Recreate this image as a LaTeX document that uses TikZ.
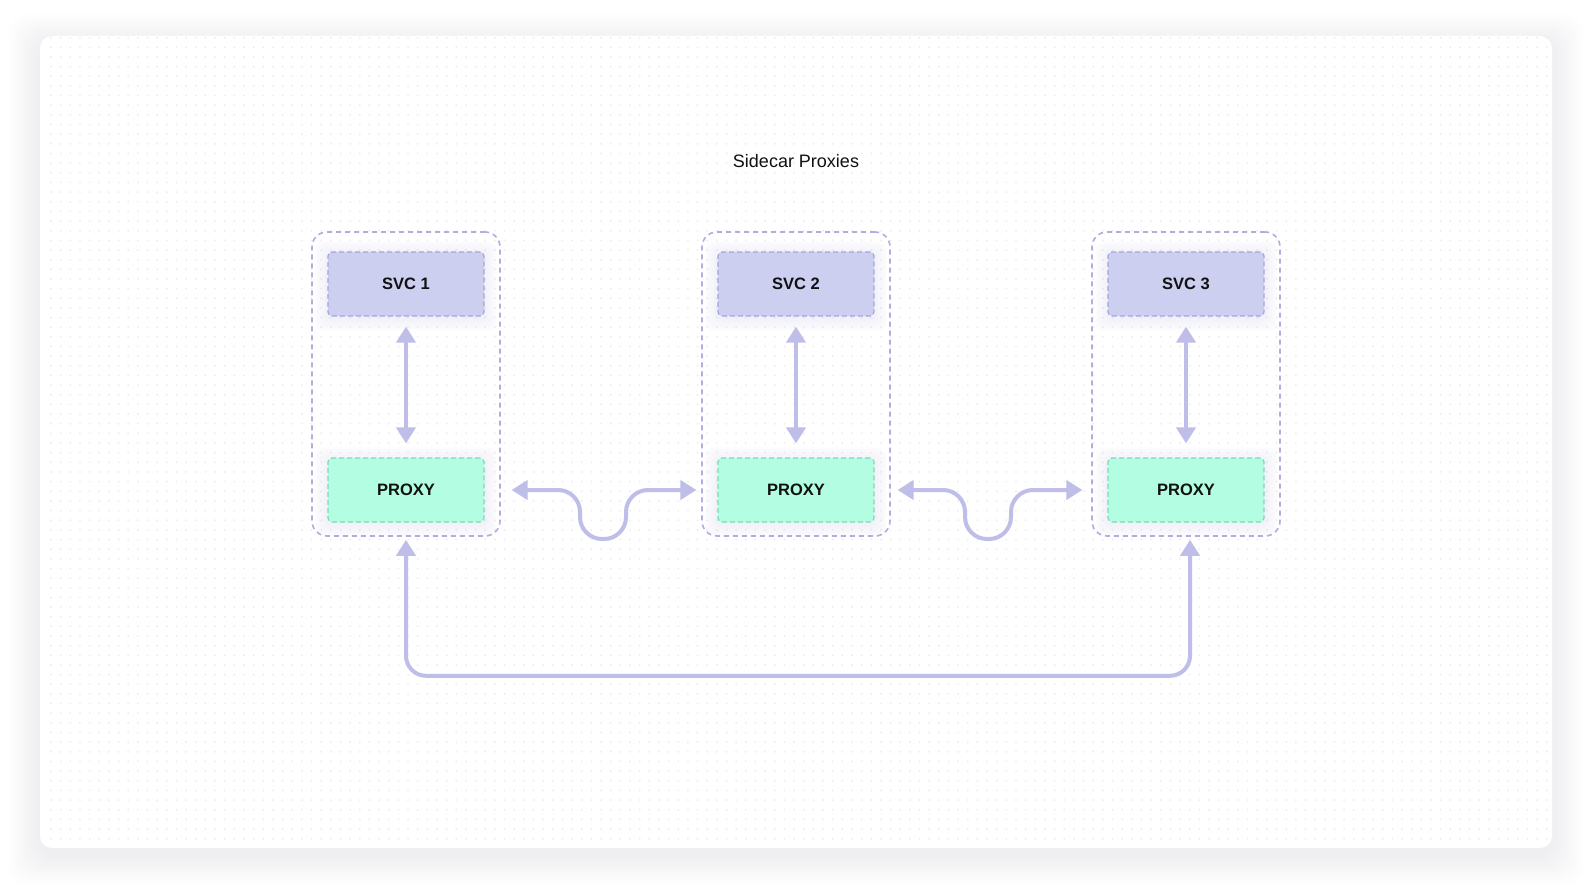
\documentclass[tikz,border=0pt]{standalone}
\usepackage{fontspec}
\setmainfont{Liberation Sans}
\usetikzlibrary{arrows.meta,calc}
\definecolor{svcf}{HTML}{CDCFF1}
\definecolor{svcb}{HTML}{A5A5DD}
\definecolor{proxf}{HTML}{B3FDE3}
\definecolor{proxb}{HTML}{7FD8B4}
\definecolor{contc}{HTML}{B1ADE2}
\definecolor{arrc}{HTML}{BEBEE8}
\definecolor{dotc}{HTML}{EEEEEF}
\definecolor{glowc}{HTML}{C4C4F0}
\definecolor{shadc}{HTML}{303050}
\definecolor{txt}{HTML}{111111}
\pgfdeclarelayer{back}
\pgfdeclarelayer{glow}
\pgfsetlayers{back,glow,main}
\tikzset{
  tipA/.tip={Triangle[width=19pt,length=16pt]},
  cont/.style={draw=contc, line width=1.6pt, dash pattern=on 5pt off 4pt, rounded corners=15pt,
    minimum width=188pt, minimum height=304pt, inner sep=0pt},
  svcbox/.style={draw=svcb, fill=svcf, line width=1.2pt, dash pattern=on 5pt off 3pt, rounded corners=4pt,
    minimum width=156pt, minimum height=64pt, inner sep=0pt, text=txt, font=\fontsize{16.5}{19}\selectfont\bfseries},
  proxbox/.style={svcbox, draw=proxb, fill=proxf},
  link/.style={draw=arrc, line width=4pt, tipA-tipA},
  titletext/.style={text=txt, font=\fontsize{18}{22}\selectfont, inner sep=0pt}
}
\begin{document}
\begin{tikzpicture}[x=1pt,y=-1pt]
\useasboundingbox (0,0) rectangle (1592,893);
\begin{pgfonlayer}{back}
  \foreach \i in {1,...,20}{
    \fill[shadc, opacity=0.002, rounded corners=20pt] ({40-1.6*\i},{36-1.4*\i+6}) rectangle ({1552+1.6*\i},{848+1.6*\i+6});
  }
  \fill[white, rounded corners=12pt] (40,36) rectangle (1552,848);
  \foreach \r in {0,...,83}{
    \draw[dotc, line width=2.2pt, line cap=round, dash pattern=on 0pt off 9.65pt] (51,{37.7+\r*9.65}) -- (1548,{37.7+\r*9.65});
  }
\end{pgfonlayer}

\node[titletext] (title) at (796,161) {Sidecar Proxies};

\node[cont] (c1) at (406,384) {};
\node[cont] (c2) at (796,384) {};
\node[cont] (c3) at (1186,384) {};

\node[svcbox] (svc1) at (406,284) {SVC 1};
\node[svcbox] (svc2) at (796,284) {SVC 2};
\node[svcbox] (svc3) at (1186,284) {SVC 3};
\node[proxbox] (proxy1) at (406,490) {PROXY};
\node[proxbox] (proxy2) at (796,490) {PROXY};
\node[proxbox] (proxy3) at (1186,490) {PROXY};

\begin{pgfonlayer}{glow}
  \foreach \n in {svc1,svc2,svc3,proxy1,proxy2,proxy3}{
    \foreach \e in {2,4,...,12}{
      \fill[glowc, opacity=0.035, rounded corners=8pt] ($(\n.south west)+(-\e,{\e+2})$) rectangle ($(\n.north east)+(\e,{-\e+2})$);
    }
  }
\end{pgfonlayer}

\draw[link] ($(svc1.south)+(0,10)$) -- ($(proxy1.north)+(0,-14)$);
\draw[link] ($(svc2.south)+(0,10)$) -- ($(proxy2.north)+(0,-14)$);
\draw[link] ($(svc3.south)+(0,10)$) -- ($(proxy3.north)+(0,-14)$);

\draw[link, rounded corners=22pt] ($(proxy1.east)+(27,0)$) -- (580,490) -- (580,539) -- (626,539) -- (626,490) -- ($(proxy2.west)+(-21,0)$);
\draw[link, rounded corners=22pt] ($(proxy2.east)+(23,0)$) -- (965,490) -- (965,539) -- (1011,539) -- (1011,490) -- ($(proxy3.west)+(-25,0)$);

\draw[link, rounded corners=20pt] ($(c1.south)+(0,3)$) |- ($(c3.south)+(4,139)$) -- ($(c3.south)+(4,3)$);
\end{tikzpicture}
\end{document}
